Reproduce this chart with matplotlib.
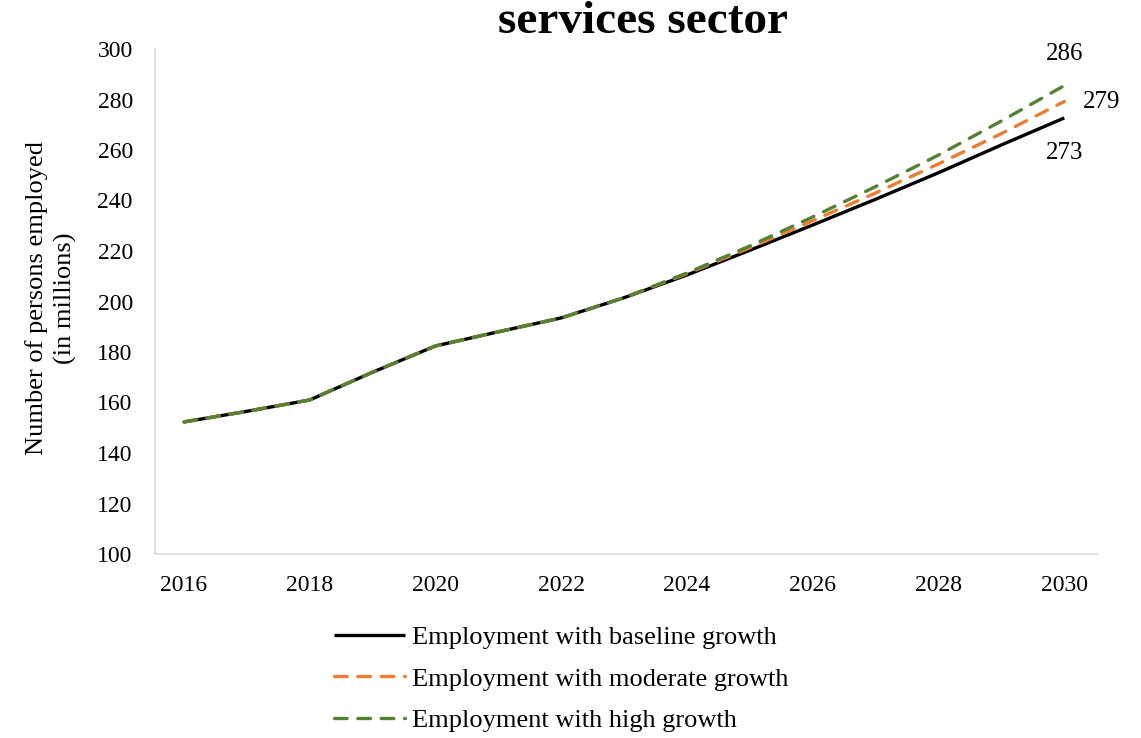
import matplotlib
matplotlib.use("Agg")
import matplotlib.pyplot as plt

years = [2016, 2017, 2018, 2019, 2020, 2021, 2022, 2023, 2024, 2025, 2026, 2027, 2028, 2029, 2030]
baseline = [152.3, 156.5, 161.0, 172.0, 182.4, 188.0, 193.5, 201.5, 210.5, 220.3, 230.3, 240.5, 251.0, 262.0, 272.7]
moderate = [152.3, 156.5, 161.0, 172.0, 182.4, 188.0, 193.5, 201.5, 211.0, 221.3, 232.0, 243.0, 254.5, 266.5, 279.2]
high = [152.3, 156.5, 161.0, 172.0, 182.4, 188.0, 193.5, 201.5, 211.3, 222.0, 233.5, 245.5, 258.0, 271.5, 285.5]
end_labels = ["273", "279", "286"]
legend_labels = ["Employment with baseline growth", "Employment with moderate growth", "Employment with high growth"]
x_ticks = [2016, 2018, 2020, 2022, 2024, 2026, 2028, 2030]
y_ticks = [100, 120, 140, 160, 180, 200, 220, 240, 260, 280, 300]

plt.rcParams['font.family'] = ['Liberation Serif', 'DejaVu Serif']

fig = plt.figure(figsize=(11.41, 7.38), dpi=100)
ax = fig.add_axes([155/1141, 1-554/738, (1097-155)/1141, (554-49)/738])

ax.plot(years, baseline, color='black', lw=2.4, solid_capstyle='butt', label=legend_labels[0])
ax.plot(years, moderate, color='#ED7D31', lw=2.4, ls=(0, (3.8, 3.2)), dash_capstyle='round', label=legend_labels[1])
ax.plot(years, high, color='#548235', lw=2.4, ls=(0, (3.8, 3.2)), dash_capstyle='round', label=legend_labels[2])

ax.set_xlim(2015.54, 2030.52)
ax.set_ylim(100, 300)
ax.set_xticks(x_ticks)
ax.set_yticks(y_ticks)
ax.tick_params(length=0, labelsize=17)
ax.tick_params(axis='x', pad=15)
ax.tick_params(axis='y', pad=16)
for s in ['top', 'right']:
    ax.spines[s].set_visible(False)
for s in ['left', 'bottom']:
    ax.spines[s].set_color('#d9d9d9')
    ax.spines[s].set_linewidth(1.2)

fig.text(51/1141, 1-298/738, "Number of persons employed\n(in millions)", rotation=90,
         ha='center', va='center', fontsize=19, linespacing=1.3)

ax.annotate(end_labels[0], (years[-1], baseline[-1]), xytext=(0, -25), textcoords='offset points',
            ha='center', va='center', fontsize=18)
ax.annotate(end_labels[1], (years[-1], moderate[-1]), xytext=(27, 0), textcoords='offset points',
            ha='center', va='center', fontsize=18)
ax.annotate(end_labels[2], (years[-1], high[-1]), xytext=(0, 23), textcoords='offset points',
            ha='center', va='center', fontsize=18)

fig.text(643/1141, 1-22/738, "services sector", ha='center', va='center', fontsize=34, fontweight='bold')

leg = fig.legend(loc='upper left', bbox_to_anchor=(310/1141, 1-602/738), frameon=False, fontsize=19,
                 handlelength=2.7, handletextpad=0.25, labelspacing=0.68)

fig.savefig("out.png", dpi=100)
